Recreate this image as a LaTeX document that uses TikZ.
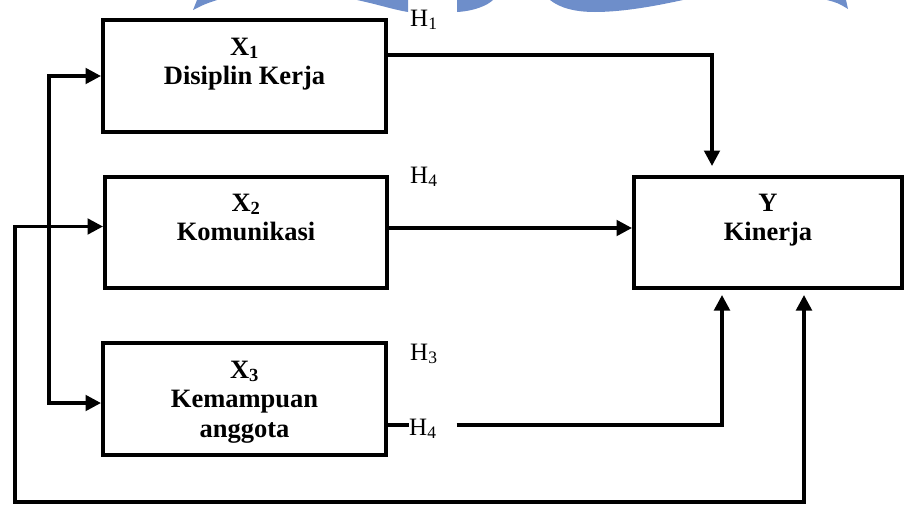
\documentclass[tikz,border=0pt]{standalone}
\usepackage{fontspec}
\setmainfont{Liberation Serif}
\usetikzlibrary{arrows.meta,calc}
\definecolor{wmblue}{RGB}{110,142,202}
\begin{document}
\begin{tikzpicture}[x=1pt,y=-1pt,
  box/.style={draw, line width=4pt, minimum width=283pt, minimum height=112pt, inner sep=0pt},
  boxtext/.style={anchor=north, inner sep=0pt, align=center, font=\bfseries\fontsize{26.5}{29.5}\selectfont},
  hlab/.style={anchor=base west, inner sep=0pt, font=\fontsize{25}{30}\selectfont},
  conn/.style={line width=3.5pt, -{Triangle[length=15.5pt,width=15.5pt]}},
  conn2/.style={line width=3.5pt, {Triangle[length=15.5pt,width=15.5pt]}-{Triangle[length=15.5pt,width=15.5pt]}},
  plain/.style={line width=3.5pt}]
\useasboundingbox (0,0) rectangle (905,506);
% watermark fragments
\fill[wmblue] (193,10) -- (197,0) -- (217,0) .. controls (205,4) .. (193,10) -- cycle;
\fill[wmblue] (357,0) .. controls (380,5) and (395,10) .. (408,12) -- (408,0) -- cycle;
\fill[wmblue] (457,0) -- (457,12) .. controls (475,11) and (488,5) .. (493,0) -- cycle;
\fill[wmblue] (550,0) .. controls (560,8) and (575,12) .. (595,12) .. controls (625,12) and (660,5) .. (683,0) -- cycle;
\fill[wmblue] (827,0) .. controls (838,3) .. (848,9) -- (846,0) -- cycle;
% boxes
\node[box] (x1) at (244.5,76) {};
\node[box, minimum width=282pt, minimum height=111pt] (x2) at (246,232.5) {};
\node[box] (x3) at (244.5,399) {};
\node[box, minimum width=268pt, minimum height=111pt] (y) at (768,232.5) {};
\node[boxtext] (x1t) at ([yshift=-19.5pt]x1.north) {X\textsubscript{1}\\Disiplin Kerja};
\node[boxtext] (x2t) at ([yshift=-18.5pt]x2.north) {X\textsubscript{2}\\Komunikasi};
\node[boxtext] (x3t) at ([yshift=-19.5pt]x3.north) {X\textsubscript{3}\\Kemampuan\\anggota};
\node[boxtext] (yt) at ([yshift=-18.5pt]y.north) {Y\\Kinerja};
% labels
\node[hlab] (h1) at (410,26) {H\textsubscript{1}};
\node[hlab] (h4a) at (410,183) {H\textsubscript{4}};
\node[hlab] (h3) at (410,360) {H\textsubscript{3}};
\node[hlab] (h4b) at (409,435) {H\textsubscript{4}};
% connectors
\draw[conn] ([yshift=21pt]x1.east) -| ([xshift=-56pt,yshift=9pt]y.north);
\draw[conn] ([yshift=4.5pt]x2.east) -- ([yshift=4.5pt]y.west);
\coordinate (x3o) at ([yshift=-26pt]x3.east);
\coordinate (h4e) at ([xshift=20pt]h4b.east);
\draw[plain] (x3o) -- (x3o -| h4b.west);
\draw[conn] (h4e |- x3o) -| ([xshift=-46pt,yshift=-5pt]y.south);
\coordinate (bus) at (49,240);
\draw[conn2] (x1.west) -| (bus) |- ([yshift=-4pt]x3.west);
\coordinate (lb) at (15,502);
\draw[conn2] ([xshift=36pt,yshift=-5pt]y.south) |- (lb) |- ([yshift=6pt]x2.west);
\end{tikzpicture}
\end{document}
